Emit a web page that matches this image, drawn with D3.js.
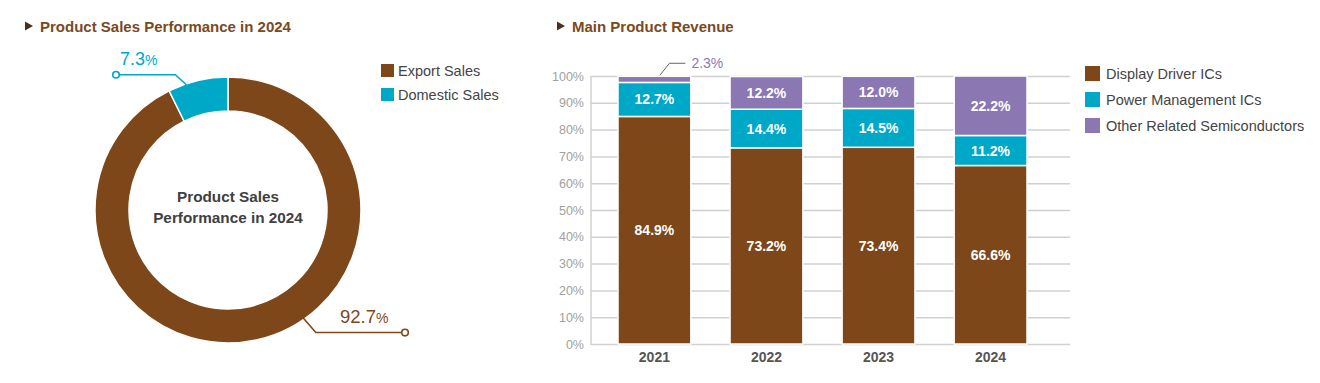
<!DOCTYPE html>
<html>
<head>
<meta charset="utf-8">
<script src="https://cdn.jsdelivr.net/npm/d3@7"></script>
<style>
  html, body { margin: 0; padding: 0; background: #fff; }
  svg { display: block; font-family: "Liberation Sans", Arial, Helvetica, sans-serif; }
</style>
</head>
<body>
<svg id="chart" width="1320" height="383"></svg>
<script>
// ---------- data ----------
const pieCategories = ["Export Sales", "Domestic Sales"];
const pieValues = [92.7, 7.3];
const pieTitle = "Product Sales Performance in 2024";

const years = ["2021", "2022", "2023", "2024"];
const barSeries = ["Display Driver ICs", "Power Management ICs", "Other Related Semiconductors"];
const displayDriver = [84.9, 73.2, 73.4, 66.6];
const powerMgmt = [12.7, 14.4, 14.5, 11.2];
const otherSemi = [2.3, 12.2, 12.0, 22.2];
const yTicks = [0, 10, 20, 30, 40, 50, 60, 70, 80, 90, 100];
const barTitle = "Main Product Revenue";

// ---------- style ----------
const BROWN = "#7d4719", TEAL = "#00a8c8", PURPLE = "#8b78b3";
const TITLE_C = "#7a4a1e";
const svg = d3.select("#chart");

// ---------- titles ----------
function title(x, y, txt) {
  const g = svg.append("g");
  g.append("path").attr("d", `M${x},${y-4.5} L${x+8},${y} L${x},${y+4.5} Z`).attr("fill", "#4a3020");
  g.append("text").attr("x", x + 15).attr("y", y + 5.5).attr("font-size", 15).attr("font-weight", "bold")
    .attr("fill", TITLE_C).text(txt);
}
title(25, 26, pieTitle);
title(557, 26, barTitle);

// ---------- donut ----------
const cx = 228, cy = 210, rOut = 133, rIn = 99;
const pieColor = d3.scaleOrdinal().domain(pieCategories).range([BROWN, TEAL]);
const pie = d3.pie().sort(null).value(d => d.v);
const arcs = pie(pieCategories.map((c, i) => ({ c, v: pieValues[i] })));
const arc = d3.arc().innerRadius(rIn).outerRadius(rOut);
const gp = svg.append("g").attr("transform", `translate(${cx},${cy})`);
gp.selectAll("path").data(arcs).join("path")
  .attr("d", arc).attr("fill", d => pieColor(d.data.c))
  .attr("stroke", "#fff").attr("stroke-width", 1.5);

gp.append("text").attr("text-anchor", "middle").attr("y", -8).attr("font-size", 15.3).attr("font-weight", "bold")
  .attr("fill", "#404040").text("Product Sales");
gp.append("text").attr("text-anchor", "middle").attr("y", 13).attr("font-size", 15.3).attr("font-weight", "bold")
  .attr("fill", "#404040").text("Performance in 2024");

// leader lines anchored on arc positions
function polar(angle, r) { return [cx + r * Math.sin(angle), cy - r * Math.cos(angle)]; }
// domestic (teal)
{
  const a = arcs[1];
  const p0 = polar(a.startAngle + (a.endAngle - a.startAngle) * 0.3, rOut - 1);
  const p1 = [p0[0] - 11, p0[1] - 10];
  const p2 = [116, p1[1]];
  svg.append("polyline").attr("points", [p0, p1, p2].map(p => p.join(",")).join(" "))
    .attr("fill", "none").attr("stroke", TEAL).attr("stroke-width", 1.6);
  svg.append("circle").attr("cx", p2[0]).attr("cy", p2[1]).attr("r", 3.3)
    .attr("fill", "#fff").attr("stroke", TEAL).attr("stroke-width", 1.6);
  const t = svg.append("text").attr("x", 120).attr("y", 65).attr("fill", TEAL);
  t.append("tspan").attr("font-size", 18).text(pieValues[1].toFixed(1));
  t.append("tspan").attr("font-size", 14).text("%");
}
// export (brown)
{
  const a = arcs[0];
  const ang = a.startAngle + (a.endAngle - a.startAngle) * 0.435;
  const p0 = polar(ang, rOut - 2);
  const p1 = [p0[0] + 13, p0[1] + 15];
  const p2 = [405, p1[1]];
  svg.append("polyline").attr("points", [p0, p1, p2].map(p => p.join(",")).join(" "))
    .attr("fill", "none").attr("stroke", BROWN).attr("stroke-width", 1.6);
  svg.append("circle").attr("cx", p2[0]).attr("cy", p2[1]).attr("r", 3.3)
    .attr("fill", "#fff").attr("stroke", BROWN).attr("stroke-width", 1.6);
  const t = svg.append("text").attr("x", 340).attr("y", 323).attr("fill", BROWN);
  t.append("tspan").attr("font-size", 18.5).text(pieValues[0].toFixed(1));
  t.append("tspan").attr("font-size", 14).text("%");
}

// pie legend
const lg1 = svg.append("g").selectAll("g").data(pieCategories).join("g")
  .attr("transform", (d, i) => `translate(381,${64 + i * 24})`);
lg1.append("rect").attr("width", 13).attr("height", 13).attr("fill", d => pieColor(d));
lg1.append("text").attr("x", 17).attr("y", 12).attr("font-size", 14.5).attr("fill", "#444").text(d => d);

// ---------- stacked bars ----------
const y = d3.scaleLinear().domain([0, 100]).range([344, 76]);
const x = d3.scaleBand().domain(years).range([618, 1027]).paddingInner(0.35).paddingOuter(0);
const barColor = d3.scaleOrdinal().domain(barSeries).range([BROWN, TEAL, PURPLE]);
const rows = years.map((yr, i) => ({
  year: yr,
  [barSeries[0]]: displayDriver[i],
  [barSeries[1]]: powerMgmt[i],
  [barSeries[2]]: otherSemi[i]
}));
const stacked = d3.stack().keys(barSeries)(rows);

// grid
const gAxis = svg.append("g").attr("transform", "translate(591,0)");
gAxis.call(d3.axisLeft(y).tickValues(yTicks).tickSize(-479).tickFormat(d => d + "%"))
  .call(g => g.select(".domain").remove())
  .call(g => g.selectAll(".tick line").attr("stroke", "#d0d0d0").attr("stroke-width", 1.5))
  .call(g => g.selectAll(".tick text").attr("x", -7).attr("fill", "#a0a0a0").attr("font-size", 12.5)
    .attr("font-family", "'Liberation Sans', Arial, sans-serif"));
svg.append("line").attr("x1", 591).attr("x2", 591).attr("y1", 76).attr("y2", 345)
  .attr("stroke", "#d0d0d0").attr("stroke-width", 1.5);

const gBars = svg.append("g");
gBars.selectAll("g.series").data(stacked).join("g").attr("class", "series")
  .attr("fill", d => barColor(d.key))
  .selectAll("rect").data(d => d).join("rect")
  .attr("x", d => x(d.data.year))
  .attr("y", d => y(d[1]))
  .attr("width", x.bandwidth())
  .attr("height", d => y(d[0]) - y(d[1]))
  .attr("stroke", "#fff").attr("stroke-width", 1.5);

// labels
stacked.forEach(s => {
  s.forEach(d => {
    const v = d[1] - d[0];
    const cxp = x(d.data.year) + x.bandwidth() / 2;
    if (v >= 5) {
      svg.append("text").attr("x", cxp).attr("y", (y(d[0]) + y(d[1])) / 2 + 5)
        .attr("text-anchor", "middle").attr("font-size", 14).attr("font-weight", "bold")
        .attr("fill", "#fff").text(v.toFixed(1) + "%");
    } else {
      const top = y(d[1]);
      const p0 = [cxp + 5.5, top - 1];
      const p1 = [cxp + 15, top - 13];
      const p2 = [cxp + 31, top - 13];
      svg.append("polyline").attr("points", [p0, p1, p2].map(p => p.join(",")).join(" "))
        .attr("fill", "none").attr("stroke", "#666").attr("stroke-width", 1);
      svg.append("text").attr("x", cxp + 37).attr("y", top - 8).attr("font-size", 14)
        .attr("fill", PURPLE).text(v.toFixed(1) + "%");
    }
  });
});

// x labels
svg.append("g").selectAll("text").data(years).join("text")
  .attr("x", d => x(d) + x.bandwidth() / 2).attr("y", 362).attr("text-anchor", "middle")
  .attr("font-size", 14).attr("font-weight", "bold").attr("fill", "#555").text(d => d);

// bar legend
const lg2 = svg.append("g").selectAll("g").data(barSeries).join("g")
  .attr("transform", (d, i) => `translate(1085,${66 + i * 26})`);
lg2.append("rect").attr("width", 15).attr("height", 15).attr("fill", d => barColor(d));
lg2.append("text").attr("x", 21).attr("y", 13).attr("font-size", 14.5).attr("fill", "#444").text(d => d);
</script>
</body>
</html>
